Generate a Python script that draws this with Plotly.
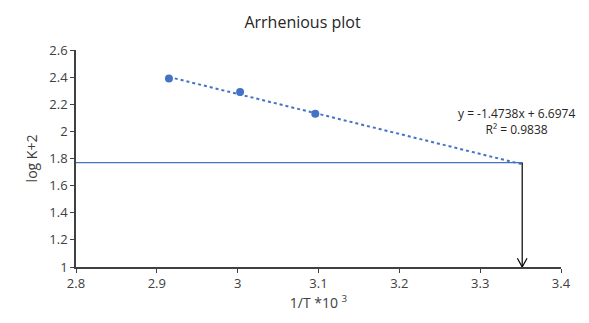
import plotly.graph_objects as go

# Data
inv_T = [2.915, 3.003, 3.096]          # 1/T *10^3
log_K2 = [2.39, 2.29, 2.13]            # log K + 2
slope, intercept = -1.4738, 6.6974
r2 = 0.9838
cross_x = 3.352                        # extrapolated 1/T
cross_y = 1.77                         # log K+2 at room temp
x_ticks = [2.8, 2.9, 3.0, 3.1, 3.2, 3.3, 3.4]
y_ticks = [1, 1.2, 1.4, 1.6, 1.8, 2, 2.2, 2.4, 2.6]

blue = "#4472C4"
axis_col = "#404040"
font = "Open Sans"

trend_x = [inv_T[0], cross_x]
trend_y = [slope * x + intercept for x in trend_x]

fig = go.Figure()
# horizontal reference line
fig.add_trace(go.Scatter(x=[x_ticks[0], cross_x], y=[cross_y, cross_y], mode="lines",
                         line=dict(color=blue, width=1.3), hoverinfo="skip", showlegend=False))
# trendline
fig.add_trace(go.Scatter(x=trend_x, y=trend_y, mode="lines",
                         line=dict(color=blue, width=2, dash="dot"), showlegend=False))
# data points
fig.add_trace(go.Scatter(x=inv_T, y=log_K2, mode="markers",
                         marker=dict(color=blue, size=8), showlegend=False))
# vertical arrow
fig.add_trace(go.Scatter(x=[cross_x, cross_x], y=[cross_y, y_ticks[0]], mode="lines",
                         line=dict(color="black", width=1.2), showlegend=False))
dx, dy = 0.006, 0.065
fig.add_trace(go.Scatter(x=[cross_x - dx, cross_x, cross_x + dx],
                         y=[y_ticks[0] + dy, y_ticks[0], y_ticks[0] + dy], mode="lines",
                         line=dict(color="black", width=1.2), showlegend=False))

fig.add_annotation(x=3.345, y=2.075, xref="x", yref="y", showarrow=False, align="center",
                   text=f"y = {slope}x + {intercept}<br>R² = {r2}",
                   font=dict(family=font, size=12, color="#262626"))

fig.update_layout(
    width=589, height=323,
    margin=dict(l=68, r=36, t=42, b=64),
    paper_bgcolor="white", plot_bgcolor="white",
    title=dict(text="Arrhenious plot", x=0.5, xanchor="center", y=0.955, yanchor="middle",
               font=dict(family=font, size=16, color="#262626")),
    font=dict(family=font, size=13, color="#404040"),
    xaxis=dict(range=[2.8, 3.4], tickvals=x_ticks, ticktext=[f"{v:g}" for v in x_ticks],
               showgrid=False, zeroline=False, showline=True, linecolor=axis_col, linewidth=1.5,
               ticks="outside", ticklen=4, tickcolor=axis_col, automargin=False,
               tickfont=dict(family=font, size=13, color="#404040"),
               title=dict(text="1/T *10 <sup>3</sup>", font=dict(family=font, size=14, color="#404040"),
                          standoff=4)),
    yaxis=dict(range=[1, 2.6], tickvals=y_ticks, ticktext=[f"{v:g}" for v in y_ticks],
               showgrid=False, zeroline=False, showline=True, linecolor=axis_col, linewidth=1.5,
               ticks="outside", ticklen=4, tickcolor=axis_col, automargin=False,
               tickfont=dict(family=font, size=13, color="#404040"),
               title=dict(text="log K+2", font=dict(family=font, size=14, color="#404040"),
                          standoff=8)),
)

fig.write_html("out.html")
